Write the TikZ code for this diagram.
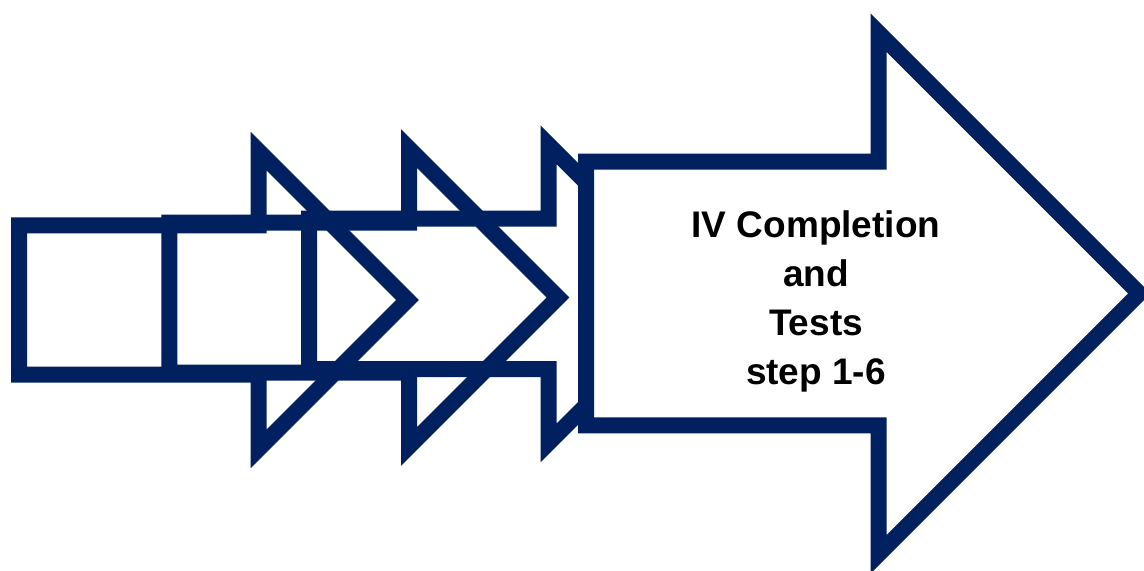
\documentclass[tikz,border=0pt]{standalone}
\usepackage{fontspec}
\setmainfont{Liberation Sans}
\usepackage{tikz}
\definecolor{stagenavy}{RGB}{0,32,96}

% one block arrow: [fill]{tail x}{head x}{mid y}{half shaft}{half head}
\newcommand{\stagearrow}[6][none]{%
  \draw[stage, fill=#1] (#2,#4-#5) -- (#3,#4-#5) -- (#3,#4-#6) -- (#3+#6,#4)
    -- (#3,#4+#6) -- (#3,#4+#5) -- (#2,#4+#5) -- cycle;}

\begin{document}
\begin{tikzpicture}[
  x=0.5pt, y=-0.5pt,
  stage/.style={draw=stagenavy, line width=8pt, line join=miter},
  label/.style={align=center, font=\bfseries\fontsize{18.5}{24.5}\selectfont}
]
\useasboundingbox (0,0) rectangle (1144,570);

% small stages
\stagearrow{19}{258.5}{300}{74.7}{149}
\stagearrow{169.3}{409}{297.5}{75}{149}
\stagearrow{309}{548.6}{293.9}{75.2}{149}

% last stage
\stagearrow[white]{586}{878.7}{293.5}{131.8}{260.7}
\node[label] (stagetext) at (816,301) {IV Completion\\and\\Tests\\step 1-6};
\end{tikzpicture}
\end{document}
